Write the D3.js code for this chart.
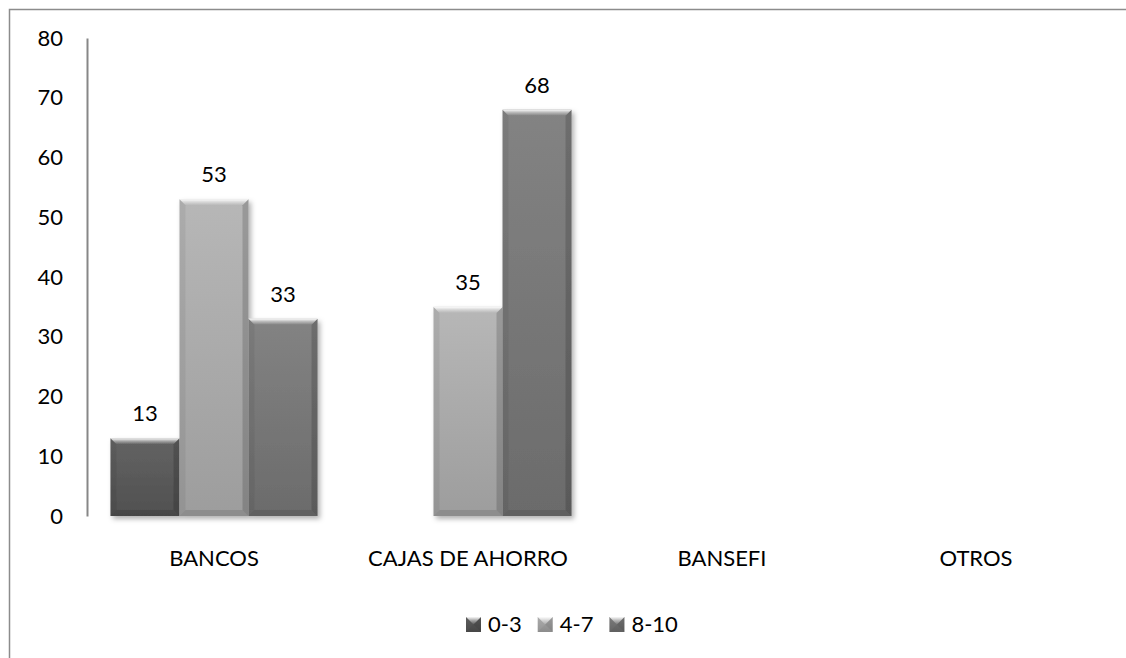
<!DOCTYPE html>
<html>
<head>
<meta charset="utf-8">
<script src="https://cdn.jsdelivr.net/npm/d3@7"></script>
<style>
  html, body { margin: 0; padding: 0; background: #fff; }
  svg { display: block; }
  text { font-family: Lato, "Open Sans", sans-serif; fill: #000; }
</style>
</head>
<body>
<svg id="chart" width="1126" height="658"></svg>
<script>
// ---- data ----
const categories = ["BANCOS", "CAJAS DE AHORRO", "BANSEFI", "OTROS"];
const seriesNames = ["0-3", "4-7", "8-10"];
const values03  = [13, 0, 0, 0];
const values47  = [53, 35, 0, 0];
const values810 = [33, 68, 0, 0];
const yTicks = [0, 10, 20, 30, 40, 50, 60, 70, 80];

const seriesValues = [values03, values47, values810];
const seriesColors = [
  ["#636363", "#505050"],
  ["#b7b7b7", "#9d9d9d"],
  ["#838383", "#6b6b6b"]
];

const svg = d3.select("#chart");
const defs = svg.append("defs");

// gradients
seriesColors.forEach((c, i) => {
  const g = defs.append("linearGradient").attr("id", "fill" + i)
    .attr("x1", 0).attr("y1", 0).attr("x2", 0).attr("y2", 1);
  g.append("stop").attr("offset", "0%").attr("stop-color", c[0]);
  g.append("stop").attr("offset", "100%").attr("stop-color", c[1]);
});
const topG = defs.append("linearGradient").attr("id", "topBevel")
  .attr("x1", 0).attr("y1", 0).attr("x2", 0).attr("y2", 1);
topG.append("stop").attr("offset", "0%").attr("stop-color", "#fff").attr("stop-opacity", 0.95);
topG.append("stop").attr("offset", "45%").attr("stop-color", "#fff").attr("stop-opacity", 0.45);
topG.append("stop").attr("offset", "100%").attr("stop-color", "#fff").attr("stop-opacity", 0.0);

const shadow = defs.append("filter").attr("id", "shadow")
  .attr("x", "-20%").attr("y", "-20%").attr("width", "150%").attr("height", "150%");
shadow.append("feDropShadow").attr("dx", 2.5).attr("dy", 3).attr("stdDeviation", 2.5)
  .attr("flood-color", "#000").attr("flood-opacity", 0.3);

// frame
svg.append("path")
  .attr("d", "M9.5,670 L9.5,9.5 L1140,9.5")
  .attr("fill", "none").attr("stroke", "#8c8c8c").attr("stroke-width", 1.5);

// scales
const x = d3.scaleBand().domain(categories).range([87, 1103]).paddingInner(0).paddingOuter(0);
const x1 = d3.scaleBand().domain(seriesNames).range([0, x.bandwidth()]).paddingInner(0).paddingOuter(0.34);
const y = d3.scaleLinear().domain([0, 80]).range([516, 38]);

// y axis
const yAxis = svg.append("g").attr("transform", "translate(87,0)")
  .call(d3.axisLeft(y).tickValues(yTicks).tickSize(0).tickPadding(24));
yAxis.select(".domain").attr("stroke", "#878787").attr("stroke-width", 2);
yAxis.selectAll("text").style("font-size", "22px").style("font-family", "Lato, sans-serif").attr("fill", "#000");

// bars
function bevelBar(g, x0, y0, w, h, fillId, bev) {
  const x1_ = x0 + w, y1_ = y0 + h;
  const b = Math.min(bev, w / 2, h / 2);
  g.append("rect").attr("x", x0).attr("y", y0).attr("width", w).attr("height", h)
    .attr("fill", "url(#" + fillId + ")");
  // left side
  g.append("polygon").attr("points", [[x0, y0], [x0 + b, y0 + b], [x0 + b, y1_ - b], [x0, y1_]].join(" "))
    .attr("fill", "#000").attr("fill-opacity", 0.06);
  // right side
  g.append("polygon").attr("points", [[x1_, y0], [x1_ - b, y0 + b], [x1_ - b, y1_ - b], [x1_, y1_]].join(" "))
    .attr("fill", "#000").attr("fill-opacity", 0.16);
  // bottom
  g.append("polygon").attr("points", [[x0, y1_], [x0 + b, y1_ - b], [x1_ - b, y1_ - b], [x1_, y1_]].join(" "))
    .attr("fill", "#000").attr("fill-opacity", 0.1);
  // top
  g.append("polygon").attr("points", [[x0, y0], [x1_, y0], [x1_ - b, y0 + b], [x0 + b, y0 + b]].join(" "))
    .attr("fill", "url(#topBevel)");
}

const barsG = svg.append("g").attr("filter", "url(#shadow)");
const labelsG = svg.append("g");
categories.forEach((cat, ci) => {
  seriesNames.forEach((s, si) => {
    const v = seriesValues[si][ci];
    if (!v) return;
    const bx = x(cat) + x1(s);
    const by = y(v);
    const bw = x1.bandwidth();
    const bh = y(0) - y(v);
    bevelBar(barsG.append("g"), bx, by, bw, bh, "fill" + si, 6);
    labelsG.append("text")
      .attr("x", bx + bw / 2).attr("y", by - 17)
      .attr("text-anchor", "middle")
      .style("font-size", "22px")
      .text(v);
  });
});

// x axis
const xAxisG = svg.append("g").attr("transform", "translate(0,516)")
  .call(d3.axisBottom(x).tickSize(0).tickSizeOuter(0));
xAxisG.select(".domain").attr("stroke", "#878787").attr("stroke-width", 2.5)
  .attr("filter", "url(#shadow)");
xAxisG.selectAll("text").attr("y", 50).attr("dy", 0)
  .style("font-size", "22px").style("font-family", "Lato, sans-serif").attr("fill", "#000");

// legend
const legend = svg.append("g");
let lx = 466;
const ly = 617, ms = 15;
seriesNames.forEach((s, si) => {
  bevelBar(legend.append("g"), lx, ly, ms, ms, "fill" + si, 7.5);
  const t = legend.append("text").attr("x", lx + 22).attr("y", 632)
    .style("font-size", "22px").text(s);
  const tw = t.node().getComputedTextLength();
  lx = lx + 22 + tw + 16;
});
</script>
</body>
</html>
